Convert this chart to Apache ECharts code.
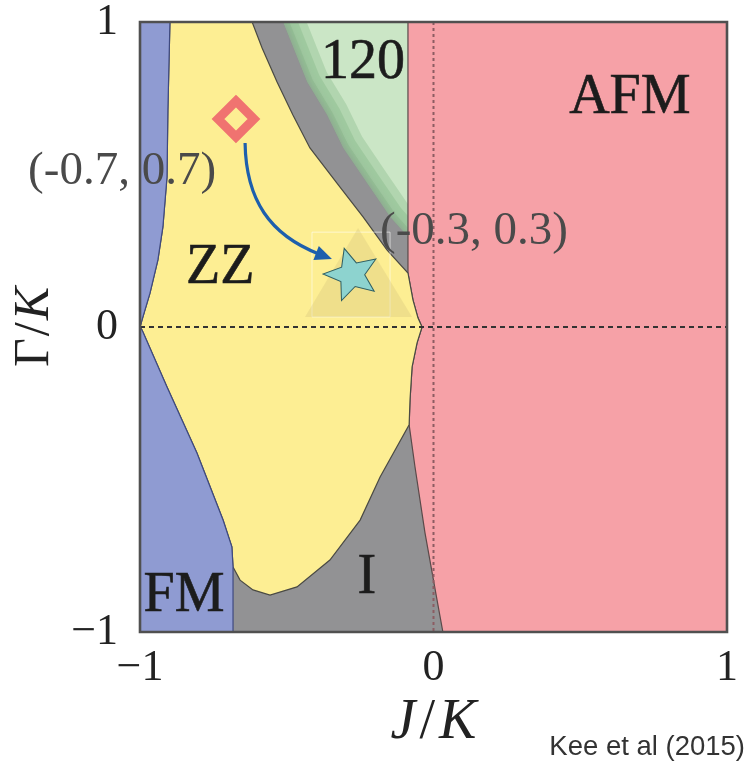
<!DOCTYPE html>
<html><head><meta charset="utf-8">
<script src="https://cdn.jsdelivr.net/npm/echarts@6/dist/echarts.min.js"></script>
<style>html,body{margin:0;padding:0;background:#fff}#c{width:751px;height:765px}</style>
</head><body><div id="c"></div>
<script>
// ---- data (J/K, Γ/K) ----
const xTicks = [-1, 0, 1];
const yTicks = [-1, 0, 1];
const fmZzEdge = [[-0.898,1],[-0.905,0.711],[-0.908,0.492],[-0.922,0.328],[-0.939,0.220],[-0.966,0.111],[-0.990,0.033],[-1.0,0.0],[-0.993,-0.010],[-0.908,-0.197],[-0.806,-0.413],[-0.717,-0.633],[-0.687,-0.721],[-0.683,-0.787]];
const fmGrayEdge = [[-0.683,-0.787],[-0.683,-1]];
const zzUpperEdge = [[-0.618,1],[-0.584,0.915],[-0.533,0.803],[-0.479,0.695],[-0.421,0.587],[-0.329,0.472],[-0.240,0.361],[-0.158,0.252],[-0.087,0.177]];
const zzAfmEdge = [[-0.087,0.177],[-0.070,0.089],[-0.053,0.030],[-0.039,0.0],[-0.056,-0.052],[-0.073,-0.131],[-0.080,-0.239],[-0.083,-0.321]];
const zzLowerEdge = [[-0.083,-0.321],[-0.182,-0.492],[-0.250,-0.633],[-0.353,-0.764],[-0.465,-0.852],[-0.557,-0.879],[-0.615,-0.862],[-0.659,-0.830],[-0.683,-0.787]];
const grayAfmEdge = [[-0.083,-0.321],[-0.063,-0.459],[-0.029,-0.675],[0.012,-0.895],[0.032,-1]];
const greenEdge = [[-0.513,1],[-0.431,0.803],[-0.363,0.695],[-0.308,0.587],[-0.227,0.472],[-0.148,0.361],[-0.087,0.295]];
const startPoint = [-0.673, 0.682];
const endPoint = [-0.281, 0.18];
const highlightTriangle = [[-0.257,0.325],[-0.438,0.033],[-0.073,0.033]];
const highlightBox = [[-0.414,0.311],[-0.148,0.311],[-0.148,0.033],[-0.414,0.033]];
const arrowPath = [[-0.642,0.603],[-0.639,0.416],[-0.557,0.302],[-0.400,0.243],[-0.346,0.223]];
const regionNames = ['120','AFM','ZZ','FM','I'];
const regionLabelPos = [[-0.240,0.866],[0.669,0.751],[-0.727,0.193],[-0.850,-0.882],[-0.227,-0.823]];
const pointLabels = ['(-0.7, 0.7)','(-0.3, 0.3)'];
const pointLabelPos = [[-1.061,0.508],[0.138,0.311]];

// ---- build polygons from the edges ----
const rev = a => a.slice().reverse();
const frame = [[-1,-1],[1,-1],[1,1],[-1,1]];
const fmRegion = [[-1,1]].concat(fmZzEdge, fmGrayEdge.slice(1), [[-1,-1]]);
const zzRegion = [[-0.898,1]].concat(zzUpperEdge, zzAfmEdge.slice(1), zzLowerEdge.slice(1), rev(fmZzEdge).slice(1));
const afmRegion = [[-0.087,1],[1,1],[1,-1]].concat(rev(grayAfmEdge), rev(zzAfmEdge).slice(1));
const greenRegion = greenEdge.concat([[-0.087,1]]);
const grayBand = zzUpperEdge.concat(rev(greenEdge));

function polySeries(name, pts, style, z, clip, kind) {
  return {
    type: 'custom', name: name, coordinateSystem: 'cartesian2d', z: z, silent: true,
    clip: clip !== false, data: [pts[0]],
    renderItem: function (params, api) {
      return { type: kind || 'polygon', shape: { points: pts.map(p => api.coord(p)) }, style: style };
    }
  };
}

const fmt = v => (v < 0 ? '\u2212' + Math.abs(v) : String(v));
const serif = 'Liberation Serif';

// star path
let sp = [];
for (let k = 0; k < 10; k++) {
  const r = (k % 2 === 0) ? 100 : 45;
  const a = (-90 + k * 36) * Math.PI / 180;
  sp.push((k === 0 ? 'M' : 'L') + (r * Math.cos(a)).toFixed(2) + ' ' + (r * Math.sin(a)).toFixed(2));
}
const starPath = 'path://' + sp.join(' ') + 'Z';

const lineColor = '#4a4a44';
const glow = 'rgba(120,176,124,0.3)';

const series = [
  polySeries('gray', frame, { fill: '#929294' }, 1),
  polySeries('120', greenRegion, { fill: '#cbe6c6' }, 2),
  polySeries('120edge1', greenEdge, { fill: 'none', stroke: glow, lineWidth: 44, lineJoin: 'round' }, 2, true, 'polyline'),
  polySeries('120edge2', greenEdge, { fill: 'none', stroke: glow, lineWidth: 28, lineJoin: 'round' }, 2, true, 'polyline'),
  polySeries('120edge3', greenEdge, { fill: 'none', stroke: glow, lineWidth: 12, lineJoin: 'round' }, 2, true, 'polyline'),
  polySeries('band', grayBand, { fill: '#929294', shadowBlur: 10, shadowColor: 'rgba(140,146,144,0.9)' }, 3),
  polySeries('AFM', afmRegion, { fill: '#f6a1a7', stroke: '#5a4a4a', lineWidth: 1.2 }, 4),
  polySeries('ZZ', zzRegion, { fill: '#fdee93', stroke: lineColor, lineWidth: 1.2 }, 5),
  polySeries('FM', fmRegion, { fill: '#8f9bd2', stroke: '#3f4a80', lineWidth: 1.2 }, 6),
  polySeries('box', highlightBox, { fill: 'none', stroke: 'rgba(255,255,255,0.55)', lineWidth: 1 }, 7),
  polySeries('tri', highlightTriangle, { fill: 'rgba(205,185,120,0.28)' }, 7),
  { type: 'line', z: 8, silent: true, symbol: 'none', data: [[-1, 0], [1, 0]],
    lineStyle: { color: '#333', width: 2, type: [5, 4] } },
  { type: 'line', z: 8, silent: true, symbol: 'none', data: [[0, 1], [0, -1]],
    lineStyle: { color: '#8c5c62', width: 2, type: [3, 3] } },
  {
    type: 'custom', z: 9, silent: true, data: [arrowPath[0]],
    renderItem: function (params, api) {
      const p = arrowPath.map(q => api.coord(q));
      const tip = p[4], base = p[3];
      const dx = tip[0] - base[0], dy = tip[1] - base[1];
      const L = Math.hypot(dx, dy), ux = dx / L, uy = dy / L;
      const hw = 7.5;
      return {
        type: 'group', children: [
          { type: 'bezierCurve', shape: { x1: p[0][0], y1: p[0][1], cpx1: p[1][0], cpy1: p[1][1], cpx2: p[2][0], cpy2: p[2][1], x2: p[3][0] + ux * 3, y2: p[3][1] + uy * 3 },
            style: { stroke: '#1d5fad', lineWidth: 3.2, fill: 'none' } },
          { type: 'polygon', shape: { points: [tip, [base[0] - uy * hw, base[1] + ux * hw], [base[0] + uy * hw, base[1] - ux * hw]] },
            style: { fill: '#1d5fad' } }
        ]
      };
    }
  },
  { type: 'scatter', z: 10, silent: true, data: [startPoint], symbol: 'diamond', symbolSize: 36,
    itemStyle: { opacity: 1, color: 'rgba(0,0,0,0)', borderColor: '#f07370', borderWidth: 9, borderJoin: 'miter' } },
  { type: 'scatter', z: 10, silent: true, data: [endPoint], symbol: starPath, symbolSize: [55, 52], symbolKeepAspect: true, symbolRotate: 16,
    itemStyle: { opacity: 1, color: '#8dd3cf', borderColor: '#2f5f63', borderWidth: 1 } },
  polySeries('frame', frame, { fill: 'none', stroke: '#505050', lineWidth: 2.6 }, 11, false),
  { type: 'scatter', z: 12, silent: true, clip: false, symbolSize: 0, itemStyle: { opacity: 1 },
    data: regionNames.map((n, i) => ({ name: n, value: regionLabelPos[i] })),
    label: { show: true, position: 'inside', formatter: '{b}', fontFamily: serif, fontSize: 56, color: '#1c1c1c',
      textBorderColor: '#1c1c1c', textBorderWidth: 0.6 } },
  { type: 'scatter', z: 12, silent: true, clip: false, symbolSize: 0, itemStyle: { opacity: 1 },
    data: pointLabels.map((n, i) => ({ name: n, value: pointLabelPos[i] })),
    label: { show: true, position: 'inside', formatter: '{b}', fontFamily: serif, fontSize: 47, color: '#4a4a4a' } }
];

const chart = echarts.init(document.getElementById('c'), null, { renderer: 'canvas' });
chart.setOption({
  animation: false,
  backgroundColor: '#fff',
  grid: { left: 140, right: 24, top: 22, bottom: 133 },
  xAxis: {
    type: 'value', min: xTicks[0], max: xTicks[xTicks.length - 1], interval: 1,
    axisLine: { show: false }, axisTick: { show: false }, splitLine: { show: false },
    axisLabel: { fontFamily: serif, fontSize: 44, color: '#222', margin: 14, formatter: fmt },
    name: '{i|J}{s|/}{i|K}', nameLocation: 'middle', nameGap: 57,
    nameTextStyle: { fontFamily: serif, fontSize: 56, color: '#222',
      rich: { i: { fontFamily: serif, fontStyle: 'italic', fontSize: 56, color: '#222' },
              s: { fontFamily: serif, fontSize: 56, color: '#222', padding: [0, 4] } } }
  },
  yAxis: {
    type: 'value', min: yTicks[0], max: yTicks[yTicks.length - 1], interval: 1,
    axisLine: { show: false }, axisTick: { show: false }, splitLine: { show: false },
    axisLabel: { fontFamily: serif, fontSize: 44, color: '#222', margin: 22, formatter: fmt },
    name: '{g|\u0393}{s|/}{i|K}', nameLocation: 'middle', nameGap: 68,
    nameTextStyle: { fontFamily: serif, fontSize: 50, color: '#222',
      rich: { i: { fontFamily: serif, fontStyle: 'italic', fontSize: 50, color: '#222' },
              g: { fontFamily: serif, fontSize: 50, color: '#222' },
              s: { fontFamily: serif, fontSize: 50, color: '#222', padding: [0, 2] } } }
  },
  graphic: [{ type: 'text', right: 6, top: 733, silent: true,
    style: { text: 'Kee et al (2015)', font: '27.5px "Liberation Sans"', fill: '#333' } }],
  series: series
});
</script></body></html>
